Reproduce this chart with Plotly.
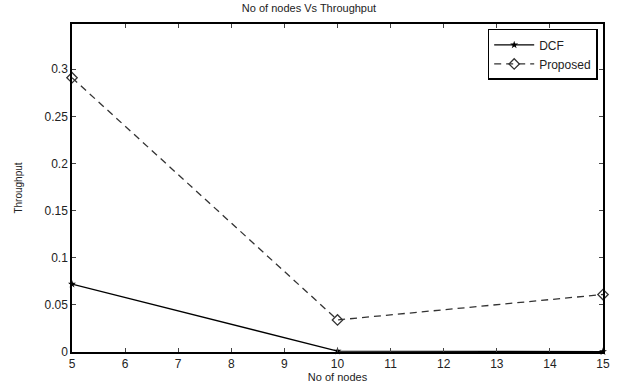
import plotly.graph_objects as go

nodes = [5, 10, 15]
dcf = [0.072, 0.001, 0.0005]
proposed = [0.291, 0.034, 0.061]
x_ticks = list(range(5, 16))
y_ticks = [0, 0.05, 0.1, 0.15, 0.2, 0.25, 0.3]
y_tick_labels = ["0", "0.05", "0.1", "0.15", "0.2", "0.25", "0.3"]

fig = go.Figure()
fig.add_trace(go.Scatter(x=nodes, y=dcf, mode="lines+markers", name="DCF",
                         line=dict(color="black", width=1.3),
                         marker=dict(symbol="star", size=6, color="black"),
                         cliponaxis=False))
fig.add_trace(go.Scatter(x=nodes, y=proposed, mode="lines+markers", name="Proposed",
                         line=dict(color="#333", width=1.3, dash="7px,5px"),
                         marker=dict(symbol="diamond-open", size=8, color="#333", line=dict(width=1.3)),
                         cliponaxis=False))

fig.update_layout(
    width=618, height=390,
    margin=dict(l=72, r=8, t=24, b=38),
    paper_bgcolor="white", plot_bgcolor="white",
    font=dict(family="Liberation Sans, Arial", size=12, color="#222"),
    title=dict(text="No of nodes Vs Throughput", x=0.5, xanchor="center", y=0.99, yanchor="top",
               font=dict(size=11)),
    showlegend=True,
    legend=dict(x=0.99, y=0.985, xanchor="right", yanchor="top",
                bordercolor="black", borderwidth=1.5, bgcolor="white",
                font=dict(size=12), itemwidth=40, tracegroupgap=0),
    xaxis=dict(range=[5, 15], tickvals=x_ticks, ticks="inside", ticklen=4,
               showline=True, linecolor="black", linewidth=1.5, mirror="ticks",
               showgrid=False, zeroline=False,
               title=dict(text="No of nodes", standoff=1, font=dict(size=11))),
    yaxis=dict(range=[0, 0.348], tickvals=y_ticks, ticktext=y_tick_labels, ticks="inside", ticklen=4,
               showline=True, linecolor="black", linewidth=1.5, mirror="ticks",
               showgrid=False, zeroline=False,
               title=dict(text="Throughput", standoff=20, font=dict(size=10))),
)

fig.write_html("out.html")
